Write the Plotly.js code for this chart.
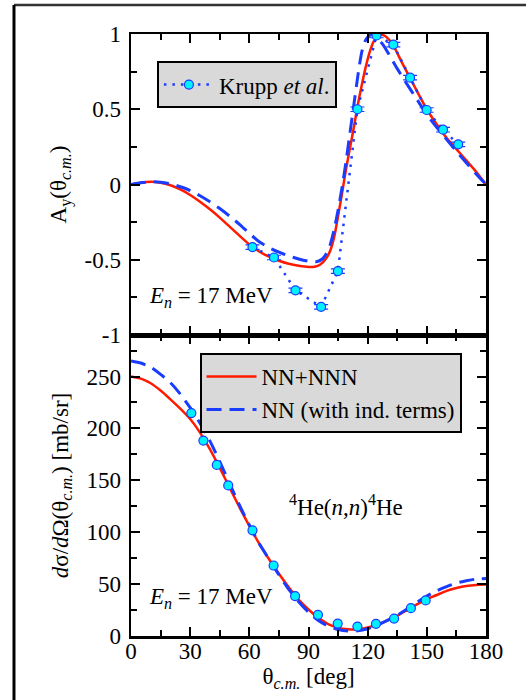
<!DOCTYPE html>
<html>
<head>
<meta charset="utf-8">
<script src="https://cdn.plot.ly/plotly-3.0.1.min.js"></script>
<style>
  html, body { margin: 0; padding: 0; background: #fff; }
  #chart { width: 526px; height: 700px; }
</style>
</head>
<body>
<div id="chart"></div>
<script>
// ---------- Data ----------
// Top panel: analyzing power A_y, Krupp et al. data
const thetaAyExp = [61.6, 72.5, 83.4, 96.4, 104.9, 114.8, 124.5, 133.0, 141.5, 149.9, 158.2, 165.9];
const AyExp      = [-0.416, -0.485, -0.703, -0.813, -0.575, 0.50, 0.99, 0.93, 0.71, 0.495, 0.364, 0.267];
const AyExpErr   = [0.015, 0.015, 0.015, 0.015, 0.015, 0.015, 0.015, 0.015, 0.015, 0.015, 0.015, 0.015];

// Top panel: NN+NNN (solid red)
const thetaAyNNN = [0, 5, 10, 15, 20, 25, 30, 35, 40, 45, 50, 55, 60, 65, 70, 75, 80, 85, 90, 93, 96, 99, 101, 103, 105, 107, 109, 111, 113, 115, 117, 119, 121, 123, 125, 127, 129, 131, 133, 137, 141, 145, 150, 155, 160, 165, 170, 175, 180];
const AyNNN      = [0, 0.012, 0.018, 0.012, -0.005, -0.033, -0.07, -0.115, -0.165, -0.22, -0.28, -0.34, -0.398, -0.445, -0.48, -0.507, -0.527, -0.54, -0.548, -0.547, -0.532, -0.49, -0.44, -0.35, -0.21, -0.06, 0.10, 0.24, 0.38, 0.53, 0.66, 0.78, 0.88, 0.95, 0.985, 0.995, 0.985, 0.96, 0.925, 0.82, 0.72, 0.62, 0.50, 0.40, 0.31, 0.235, 0.16, 0.085, 0];

// Top panel: NN with induced terms (dashed blue)
const thetaAyNN = [0, 5, 10, 15, 20, 25, 30, 35, 40, 45, 50, 55, 60, 65, 70, 75, 80, 85, 90, 94, 97, 99, 101, 103, 105, 107, 109, 111, 113, 115, 117, 119, 121, 122.5, 125, 128, 131, 135, 140, 145, 150, 155, 160, 165, 170, 175, 180];
const AyNN      = [0, 0.012, 0.018, 0.015, 0.005, -0.015, -0.04, -0.075, -0.115, -0.16, -0.21, -0.265, -0.325, -0.38, -0.42, -0.45, -0.475, -0.495, -0.51, -0.513, -0.495, -0.46, -0.40, -0.30, -0.17, -0.02, 0.15, 0.34, 0.53, 0.72, 0.88, 0.96, 0.99, 1.0, 0.97, 0.925, 0.86, 0.77, 0.665, 0.565, 0.465, 0.38, 0.30, 0.22, 0.145, 0.07, 0];

// Bottom panel: differential cross section data
const thetaXsExp = [30.6, 36.7, 43.5, 49.3, 61.6, 72.3, 83.2, 94.8, 104.8, 114.8, 124.2, 133.4, 141.9, 149.4];
const xsExp      = [214.8, 188.3, 164.8, 145.1, 101.8, 67.9, 38.5, 20.4, 12.0, 9.1, 11.7, 16.8, 26.8, 34.3];

// Bottom panel: NN+NNN
const thetaXs = [0, 5, 10, 15, 20, 25, 30, 35, 40, 45, 50, 55, 60, 65, 70, 75, 80, 85, 90, 95, 100, 105, 110, 115, 120, 125, 130, 135, 140, 145, 150, 155, 160, 165, 170, 175, 180];
const xsNNN   = [250, 248, 243.5, 236.5, 228, 219, 209, 196, 180, 162, 143, 124, 106, 89, 74, 60, 47, 35, 25.5, 17.5, 11.5, 8, 6.5, 6.5, 8.2, 11, 15, 19.5, 25, 30.5, 35.5, 39.5, 43.5, 46.2, 48.2, 49.2, 49.5];
// Bottom panel: NN (with ind. terms)
const xsNN    = [265, 263, 259, 252, 244, 233, 220, 205, 188, 168, 147, 126, 107, 89, 74, 59, 45, 33, 23, 15, 9.5, 6.2, 4.8, 5, 7, 10.5, 15, 20, 26, 32.5, 38.5, 43.5, 47.5, 51, 53.3, 54.8, 55.3];

// Tick labels
const ayTickVals  = [-1, -0.5, 0, 0.5, 1];
const ayTickText  = ["-1", "-0.5", "0", "0.5", "1"];
const xsTickVals  = [0, 50, 100, 150, 200, 250];
const xsTickText  = ["0", "50", "100", "150", "200", "250"];
const thTickVals  = [0, 30, 60, 90, 120, 150, 180];
const thTickText  = ["0", "30", "60", "90", "120", "150", "180"];

// Labels
const legExp   = "Krupp <i>et al</i>.";
const legNNN   = "NN+NNN";
const legNN    = "NN (with ind. terms)";

// ---------- Styles ----------
const FONT = "Liberation Serif";
const RED = "#ff1a00";
const BLUE = "#1a3cff";
const CYAN = "#00f0ff";

const traces = [
  { x: thetaAyNNN, y: AyNNN, xaxis: "x", yaxis: "y", mode: "lines",
    line: { color: RED, width: 2.5, shape: "spline", smoothing: 0.6 }, showlegend: false, hoverinfo: "skip" },
  { x: thetaAyNN, y: AyNN, xaxis: "x", yaxis: "y", mode: "lines",
    line: { color: BLUE, width: 3, dash: "15px,8px", shape: "spline", smoothing: 0.6 }, showlegend: false, hoverinfo: "skip" },
  { x: thetaAyExp, y: AyExp, xaxis: "x", yaxis: "y", mode: "lines+markers", name: legExp, legend: "legend",
    line: { color: BLUE, width: 2.5, dash: "2.5px,6px" },
    marker: { size: 9, color: CYAN, line: { color: BLUE, width: 1.2 } },
    error_y: { type: "data", array: AyExpErr, visible: true, color: BLUE, thickness: 1.2, width: 7 } },
  { x: thetaXs, y: xsNNN, xaxis: "x2", yaxis: "y2", mode: "lines", name: legNNN, legend: "legend2",
    line: { color: RED, width: 2.5, shape: "spline", smoothing: 0.6 } },
  { x: thetaXs, y: xsNN, xaxis: "x2", yaxis: "y2", mode: "lines", name: legNN, legend: "legend2",
    line: { color: BLUE, width: 3, dash: "15px,8px", shape: "spline", smoothing: 0.6 } },
  { x: thetaXsExp, y: xsExp, xaxis: "x2", yaxis: "y2", mode: "markers", showlegend: false,
    marker: { size: 9, color: CYAN, line: { color: BLUE, width: 1.2 } } }
];

const axisCommon = {
  showline: true, linecolor: "black", linewidth: 2.5, mirror: "ticks",
  ticks: "inside", ticklen: 9, tickwidth: 2, tickcolor: "black",
  showgrid: false, zeroline: false,
  tickfont: { family: FONT, size: 23, color: "black" }
};

const layout = {
  width: 526, height: 700,
  margin: { l: 131, r: 40, t: 34, b: 64 },
  paper_bgcolor: "white", plot_bgcolor: "white",
  font: { family: FONT, size: 22, color: "black" },
  xaxis: Object.assign({}, axisCommon, {
    domain: [0, 1], anchor: "y", range: [0, 180],
    tickmode: "array", tickvals: thTickVals, ticktext: thTickText, showticklabels: false,
    minor: { tickmode: "linear", tick0: 0, dtick: 15, ticks: "inside", ticklen: 6, tickwidth: 2, tickcolor: "black" }
  }),
  yaxis: Object.assign({}, axisCommon, {
    domain: [0.5, 1], anchor: "x", range: [-1, 1],
    tickmode: "array", tickvals: ayTickVals, ticktext: ayTickText, ticklabelstandoff: 3,
    minor: { tickmode: "linear", tick0: 0, dtick: 0.25, ticks: "inside", ticklen: 6, tickwidth: 2, tickcolor: "black" },
    title: { text: "A<sub>y</sub>(θ<sub><i>c.m.</i></sub>)", font: { family: FONT, size: 23 }, standoff: 12 }
  }),
  xaxis2: Object.assign({}, axisCommon, {
    domain: [0, 1], anchor: "y2", range: [0, 180],
    tickmode: "array", tickvals: thTickVals, ticktext: thTickText, ticklabelstandoff: -7,
    minor: { tickmode: "linear", tick0: 0, dtick: 15, ticks: "inside", ticklen: 6, tickwidth: 2, tickcolor: "black" },
    title: { text: "θ<sub><i>c.m.</i></sub> [deg]", font: { family: FONT, size: 23 }, standoff: 2 }
  }),
  yaxis2: Object.assign({}, axisCommon, {
    domain: [0, 0.5], anchor: "x2", range: [0, 290],
    tickmode: "array", tickvals: xsTickVals, ticktext: xsTickText, ticklabelstandoff: 3,
    minor: { tickmode: "linear", tick0: 0, dtick: 25, ticks: "inside", ticklen: 6, tickwidth: 2, tickcolor: "black" },
    title: { text: "<i>d</i>σ/<i>d</i>Ω(θ<sub><i>c.m.</i></sub>) [mb/sr]", font: { family: FONT, size: 23 }, standoff: 12 }
  }),
  legend: {
    x: 0.073, y: 0.955, xanchor: "left", yanchor: "top",
    bgcolor: "#d9d9d9", bordercolor: "black", borderwidth: 2,
    font: { family: FONT, size: 23, color: "black" }, itemwidth: 50
  },
  legend2: {
    x: 0.193, y: 0.470, xanchor: "left", yanchor: "top",
    bgcolor: "#d9d9d9", bordercolor: "black", borderwidth: 2,
    font: { family: FONT, size: 23, color: "black" }, itemwidth: 50, tracegroupgap: 0
  },
  annotations: [
    { xref: "paper", yref: "paper", x: 0.045, y: 0.563, xanchor: "left", yanchor: "middle", showarrow: false,
      text: "<i>E</i><sub><i>n</i></sub> = 17 MeV", font: { family: FONT, size: 23, color: "black" } },
    { xref: "paper", yref: "paper", x: 0.045, y: 0.063, xanchor: "left", yanchor: "middle", showarrow: false,
      text: "<i>E</i><sub><i>n</i></sub> = 17 MeV", font: { family: FONT, size: 23, color: "black" } },
    { xref: "paper", yref: "paper", x: 0.606, y: 0.216, xanchor: "center", yanchor: "middle", showarrow: false,
      text: "<sup>4</sup>He(<i>n</i>,<i>n</i>)<sup>4</sup>He", font: { family: FONT, size: 23, color: "black" } }
  ],
  shapes: [
    { type: "line", xref: "paper", yref: "paper", x0: -0.3296, x1: 1.2, y0: 1.0482, y1: 1.0482,
      line: { color: "#333", width: 2.5 } },
    { type: "line", xref: "paper", yref: "paper", x0: -0.3296, x1: -0.3296, y0: 1.0482, y1: -0.2,
      line: { color: "black", width: 3 } }
  ]
};

Plotly.newPlot("chart", traces, layout, { displayModeBar: false, staticPlot: true });
</script>
</body>
</html>
